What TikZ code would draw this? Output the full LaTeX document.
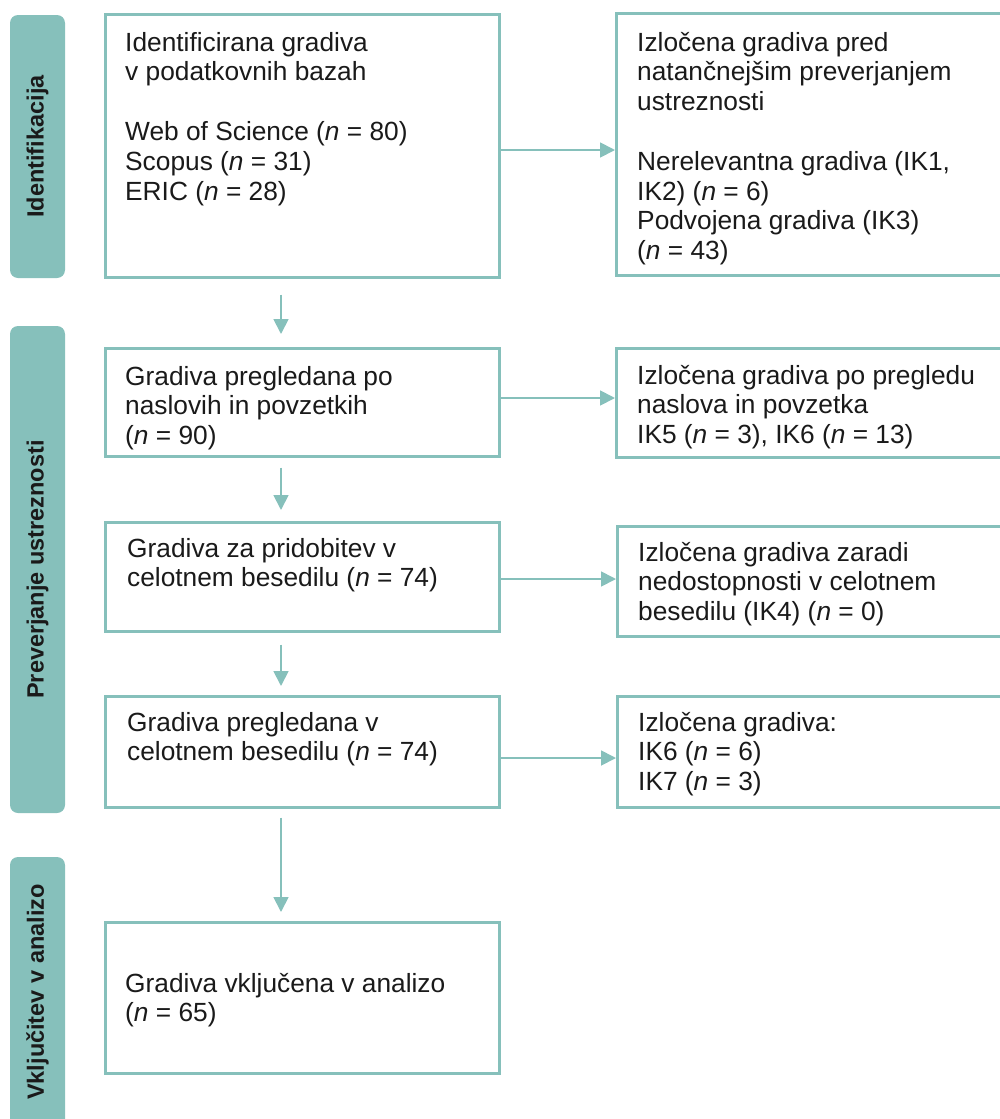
\documentclass[tikz,border=0pt]{standalone}
\usepackage{fontspec}
\setmainfont{Liberation Sans}
\usetikzlibrary{arrows.meta,calc}
\definecolor{flowteal}{RGB}{134,192,187}
\definecolor{inktext}{RGB}{26,26,26}
\begin{document}
\begin{tikzpicture}[x=1pt,y=-1pt,
  phase/.style={fill=flowteal, draw=none, rounded corners=8pt, rotate=90,
    minimum height=55pt, inner sep=0pt, text=inktext,
    font=\fontsize{23.5}{27}\selectfont\bfseries},
  box/.style={draw=flowteal, line width=2.6pt, fill=white, inner sep=0pt},
  % texts are placed by the baseline of their last line
  txt/.style={anchor=base west, align=left, inner sep=0pt, text=inktext,
    font=\fontsize{26.3}{29.8}\selectfont},
  arr/.style={draw=flowteal, line width=1.8pt, -{Triangle[width=15pt,length=15pt]}}
]
\useasboundingbox (0,0) rectangle (1000,1119);
\clip (0,0) rectangle (1000,1119);

% phase bars on the left
\node[phase, minimum width=263pt] (p1) at (37.5,146.5) {Identifikacija};
\node[phase, minimum width=487pt] (p2) at (37.5,569.5) {Preverjanje ustreznosti};
\node[phase, minimum width=270pt] (p3) at (37.5,992) {Vključitev v analizo};

% main column
\node[box, anchor=north west, minimum width=394pt, minimum height=263pt] (b1) at (104,13) {};
\node[box, anchor=north west, minimum width=394pt, minimum height=108pt] (b2) at (104,347) {};
\node[box, anchor=north west, minimum width=394pt, minimum height=109pt] (b3) at (104,521) {};
\node[box, anchor=north west, minimum width=394pt, minimum height=111pt] (b4) at (104,695) {};
\node[box, anchor=north west, minimum width=394pt, minimum height=151pt] (b5) at (104,921) {};

% excluded records column
\node[box, anchor=north west, minimum width=400pt, minimum height=262pt] (r1) at (615,12) {};
\node[box, anchor=north west, minimum width=400pt, minimum height=109pt] (r2) at (615,347) {};
\node[box, anchor=north west, minimum width=400pt, minimum height=110pt] (r3) at (616,525) {};
\node[box, anchor=north west, minimum width=400pt, minimum height=111pt] (r4) at (616,695) {};

% box texts
\node[txt] (t1) at (125,200) {Identificirana gradiva\\v podatkovnih bazah\\[29.8pt]Web of Science (\textit{n} = 80)\\Scopus (\textit{n} = 31)\\ERIC (\textit{n} = 28)};
\node[txt] (t2) at (125,444.6) {Gradiva pregledana po\\naslovih in povzetkih\\(\textit{n} = 90)};
\node[txt] (t3) at (127,586.8) {Gradiva za pridobitev v\\celotnem besedilu (\textit{n} = 74)};
\node[txt] (t4) at (127,760.8) {Gradiva pregledana v\\celotnem besedilu (\textit{n} = 74)};
\node[txt] (t5) at (125,1021.8) {Gradiva vključena v analizo\\(\textit{n} = 65)};

\node[txt] (u1) at (637,259.6) {Izločena gradiva pred\\natančnejšim preverjanjem\\ustreznosti\\[29.8pt]Nerelevantna gradiva (IK1,\\IK2) (\textit{n} = 6)\\Podvojena gradiva (IK3)\\(\textit{n} = 43)};
\node[txt] (u2) at (637,443.6) {Izločena gradiva po pregledu\\naslova in povzetka\\IK5 (\textit{n} = 3), IK6 (\textit{n} = 13)};
\node[txt] (u3) at (638,620.6) {Izločena gradiva zaradi\\nedostopnosti v celotnem\\besedilu (IK4) (\textit{n} = 0)};
\node[txt] (u4) at (638,790.6) {Izločena gradiva:\\IK6 (\textit{n} = 6)\\IK7 (\textit{n} = 3)};

% downward flow
\coordinate (ax) at (281,0);
\draw[arr] ($(b1.south -| ax)+(0,16)$) -- ($(b2.north -| ax)+(0,-13)$);
\draw[arr] ($(b2.south -| ax)+(0,10)$) -- ($(b3.north -| ax)+(0,-11)$);
\draw[arr] ($(b3.south -| ax)+(0,12)$) -- ($(b4.north -| ax)+(0,-9)$);
\draw[arr] ($(b4.south -| ax)+(0,9)$) -- ($(b5.north -| ax)+(0,-9)$);

% exclusions
\coordinate (ay1) at (0,150);
\coordinate (ay2) at (0,398);
\coordinate (ay3) at (0,579);
\coordinate (ay4) at (0,758);
\draw[arr] (b1.east |- ay1) -- (r1.west |- ay1);
\draw[arr] (b2.east |- ay2) -- (r2.west |- ay2);
\draw[arr] (b3.east |- ay3) -- (r3.west |- ay3);
\draw[arr] (b4.east |- ay4) -- (r4.west |- ay4);
\end{tikzpicture}
\end{document}
